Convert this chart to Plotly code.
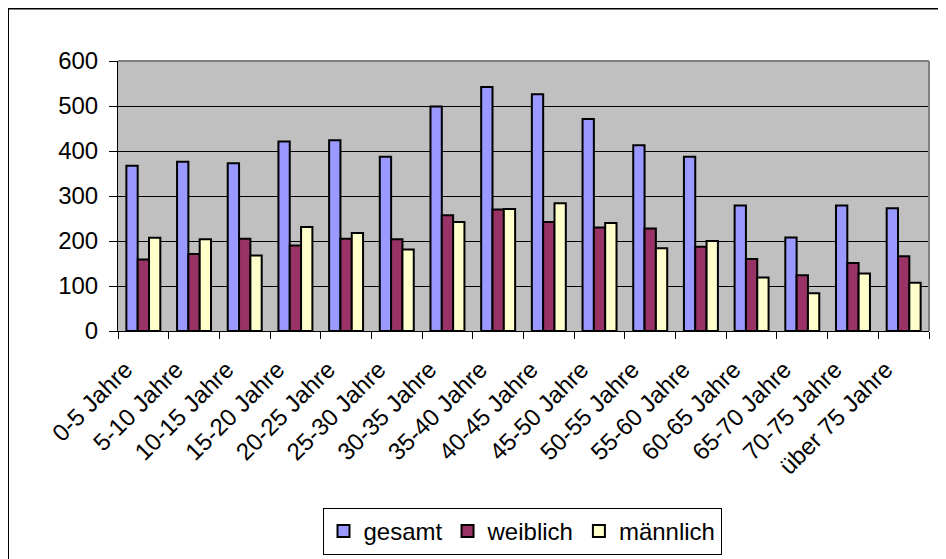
import plotly.graph_objects as go

categories = ["0-5 Jahre", "5-10 Jahre", "10-15 Jahre", "15-20 Jahre", "20-25 Jahre",
              "25-30 Jahre", "30-35 Jahre", "35-40 Jahre", "40-45 Jahre", "45-50 Jahre",
              "50-55 Jahre", "55-60 Jahre", "60-65 Jahre", "65-70 Jahre", "70-75 Jahre",
              "über 75 Jahre"]
gesamt = [367, 376, 373, 421, 424, 387, 499, 542, 526, 471, 413, 387, 279, 208, 279, 273]
weiblich = [159, 171, 205, 190, 205, 204, 257, 270, 242, 230, 228, 187, 160, 124, 151, 166]
maennlich = [207, 204, 168, 231, 218, 181, 242, 271, 284, 240, 184, 200, 119, 84, 128, 107]
y_ticks = [0, 100, 200, 300, 400, 500, 600]

series = [("gesamt", gesamt, "#9999FF"),
          ("weiblich", weiblich, "#993366"),
          ("männlich", maennlich, "#FFFFCC")]

fig = go.Figure()
for name, vals, col in series:
    fig.add_trace(go.Bar(x=categories, y=vals, name=name,
                         marker=dict(color=col, line=dict(color="black", width=2))))

# page is offset by the 8px body margin
OFF = 8
W, H = 946, 559
L, R, T, B = 118 - OFF, 946 - 929 + OFF, 61 - OFF, 559 - 331 + OFF
pw, ph = W - L - R, H - T - B

def px(x):
    return (x - OFF - L) / pw

def py(y):
    return (T + ph - (y - OFF)) / ph

font = "Liberation Sans, Arial, sans-serif"
fig.update_layout(
    width=W, height=H,
    margin=dict(l=L, r=R, t=T, b=B, autoexpand=False),
    paper_bgcolor="white", plot_bgcolor="#C0C0C0",
    barmode="group", bargap=0.33, bargroupgap=0,
    font=dict(family=font, size=24, color="black"),
    showlegend=True,
    legend=dict(orientation="h", x=px(522), xanchor="center", y=py(508), yanchor="top",
                bordercolor="black", borderwidth=1, bgcolor="white",
                font=dict(size=24), itemwidth=30, tracegroupgap=0),
    xaxis=dict(tickangle=-45, ticks="outside", tickson="boundaries", ticklen=7,
               tickcolor="black", showline=True, linecolor="black", linewidth=1,
               showgrid=False, tickfont=dict(size=24),
               ticklabelshift=-18, ticklabelstandoff=14),
    yaxis=dict(range=[0, 600], tickvals=y_ticks, ticks="outside", ticklen=8,
               tickcolor="black", showline=True, linecolor="black", linewidth=1,
               showgrid=True, gridcolor="black", gridwidth=1, zeroline=False,
               tickfont=dict(size=24), ticklabelstandoff=6),
    shapes=[
        dict(type="line", xref="paper", yref="paper", x0=0, x1=1, y0=1, y1=1,
             line=dict(color="#808080", width=2)),
        dict(type="line", xref="paper", yref="paper", x0=1, x1=1, y0=0, y1=1,
             line=dict(color="#808080", width=2)),
        dict(type="rect", xref="paper", yref="paper", x0=px(8), x1=px(980),
             y0=py(600), y1=py(8.5), line=dict(color="black", width=2),
             fillcolor="rgba(0,0,0,0)"),
    ],
)

fig.write_html("out.html")
